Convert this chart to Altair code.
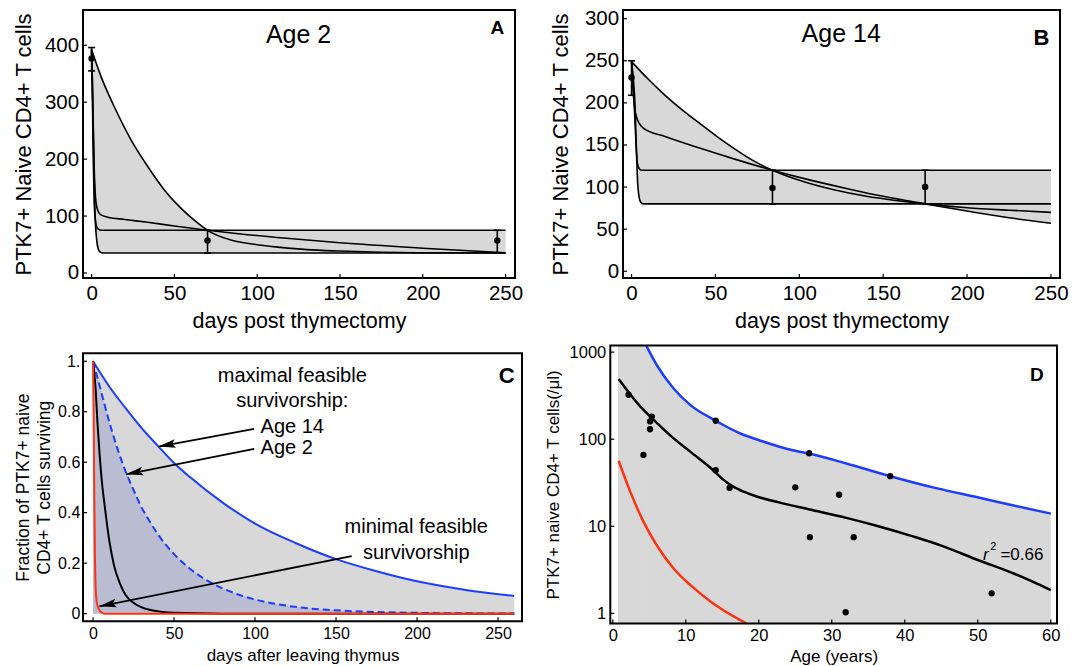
import math
import numpy as np
import pandas as pd
import altair as alt

FONT = "Liberation Sans"
GRAY = "#d8d8d8"
LAV = "#babcd2"
BLUE = "#1e3cff"
RED = "#ff3311"

# ---------------- Panel A : Age 2 ----------------
a_exp_day = [0, 5.7, 13.7, 23.8, 33.9, 43.9, 53.9, 64, 70, 84, 100, 114, 130, 150, 175, 200, 250]
a_exp_val = [392, 345, 292, 234, 187, 146, 114, 88, 75, 58, 49.6, 45, 41, 38.5, 36.5, 35.5, 35]
a_two_day = [0, 0.5, 1, 1.5, 2, 2.7, 4, 5.7, 9.8, 20, 33.9, 50, 70, 90, 114, 150, 200, 250]
a_two_val = [392, 330, 260, 190, 150, 123, 108, 102, 98, 94, 89, 82.5, 75, 68.5, 62, 53, 43.5, 35.5]
a_f75_day = [0, 0.5, 1, 1.5, 2, 3, 4, 6, 250]
a_f75_val = [392, 300, 200, 130, 100, 82, 77, 75, 75]
a_f35_day = [0, 0.5, 1, 1.5, 2, 3, 4, 5, 7, 250]
a_f35_val = [392, 330, 250, 170, 110, 60, 42, 37, 35, 35]
a_pt_day = [0, 70, 245]
a_pt_val = [377, 57, 57]
a_pt_lo = [355, 35, 35]
a_pt_hi = [396, 75, 75]
a_xticks = [0, 50, 100, 150, 200, 250]
a_yticks = [0, 100, 200, 300, 400]

# ---------------- Panel B : Age 14 ----------------
b_exp_day = [0, 10, 20, 30, 41, 51, 61, 72, 84, 100, 120, 140, 160, 175, 200, 225, 250]
b_exp_val = [249, 228, 209, 192, 175, 160, 146, 132, 120, 108, 97, 89, 83.5, 80, 75.5, 72.5, 70]
b_two_day = [0, 0.5, 1, 1.5, 2, 3, 4.5, 7, 20, 41, 61, 84, 100, 130, 150, 175, 200, 225, 250]
b_two_val = [249, 228, 212, 200, 192, 183, 176, 170, 160, 146, 133.5, 120, 111.5, 97.5, 89, 80, 71.5, 63.5, 57]
b_f120_day = [0, 1, 2, 2.7, 3.5, 4.5, 6, 250]
b_f120_val = [249, 220, 180, 150, 128, 122, 120, 120]
b_f80_day = [0, 1, 2, 2.8, 3.5, 4.5, 5.5, 7, 250]
b_f80_val = [249, 230, 200, 150, 110, 88, 82, 80, 80]
b_pt_day = [0, 84, 175]
b_pt_val = [230, 99, 100]
b_pt_lo = [209, 80, 80]
b_pt_hi = [250, 120, 120]
b_xticks = [0, 50, 100, 150, 200, 250]
b_yticks = [0, 50, 100, 150, 200, 250, 300]

# ---------------- Panel C : survivorship ----------------
c_blue_day = [0, 10, 20, 30, 40, 50, 60, 80, 100, 125, 150, 175, 200, 230, 260]
c_blue_val = [1.0, 0.90, 0.815, 0.735, 0.665, 0.597, 0.54, 0.44, 0.357, 0.28, 0.216, 0.168, 0.128, 0.094, 0.07]
c_dash_day = [0, 5, 10, 15, 20, 25, 30, 35, 40, 45, 50, 60, 70, 80, 90, 100, 115, 130, 150, 175, 200, 230, 260]
c_dash_val = [1.0, 0.88, 0.76, 0.655, 0.565, 0.49, 0.42, 0.365, 0.315, 0.272, 0.236, 0.177, 0.133, 0.1, 0.075,
              0.056, 0.036, 0.023, 0.013, 0.0065, 0.003, 0.0012, 0.0005]
c_black_day = [0, 1.6, 2.7, 4.1, 5.5, 7.2, 8.5, 10.2, 13, 16.4, 20, 24.7, 30, 37, 50, 80, 260]
c_black_val = [1.0, 0.89, 0.76, 0.626, 0.52, 0.427, 0.36, 0.282, 0.19, 0.123, 0.075, 0.044, 0.025, 0.012, 0.003, 0.0, 0.0]
c_red_day = [0, 0.4, 0.8, 1.2, 1.6, 2.2, 3.1, 4, 5.1, 7, 260]
c_red_val = [1.0, 0.75, 0.45, 0.22, 0.1, 0.05, 0.024, 0.012, 0.006, 0.0, 0.0]
c_text = ["maximal feasible", "survivorship:", "Age 14", "Age 2", "minimal feasible", "survivorship"]
c_text_x = [123, 123, 103.4, 103.4, 199.5, 199.5]
c_text_y = [0.943, 0.841, 0.738, 0.656, 0.342, 0.241]
c_text_align = ["center", "center", "left", "left", "center", "center"]
c_arrow_x0 = [99.5, 99.5, 159.7]
c_arrow_y0 = [0.732, 0.653, 0.228]
c_arrow_x1 = [40.4, 20.4, 3.9]
c_arrow_y1 = [0.662, 0.552, 0.029]
c_xticks = [0, 50, 100, 150, 200, 250]
c_yticks = [0, 0.2, 0.4, 0.6, 0.8, 1.0]

# ---------------- Panel D : age dependence ----------------
d_age = [2.16, 4.2, 5.1, 5.1, 5.35, 14.1, 14.1, 16.0, 25.0, 26.9, 27.0, 31.0, 33.0, 31.9, 38.0, 51.9]
d_val = [324, 66, 130, 160, 182, 163, 44, 27.6, 28, 69, 7.5, 23, 7.5, 1.03, 37.6, 1.7]
d_fit_age = [0.8, 3.75, 5.6, 8.3, 10.6, 13.75, 15.0, 16.5, 18.0, 19.7, 22.9, 27, 32, 36, 41, 45, 50, 55, 60]
d_fit_val = [490, 238, 167, 103, 72, 44, 35, 28.5, 24.8, 22, 18.7, 15.6, 12.5, 10.2, 7.7, 6.0, 4.1, 2.85, 1.85]
d_blue_age = [4.57, 6.0, 8.3, 10.6, 14.1, 17.4, 20.6, 24.2, 27.0, 32.0, 38.0, 44.3, 50.1, 54.9, 60.0]
d_blue_val = [1194, 716, 385, 248, 163, 117, 94, 76, 68, 52.6, 37.6, 27.4, 21.4, 17.3, 14.0]
d_red_age = [0.8, 2.39, 4.2, 6.0, 8.3, 10.6, 13.75, 17.2, 18.3]
d_red_val = [56.5, 25, 11.3, 6.1, 3.3, 2.12, 1.3, 0.86, 0.77]
d_xticks = [0, 10, 20, 30, 40, 50, 60]
d_yticks = [1, 10, 100, 1000]

# ---------------- geometry ----------------
A_W, A_H = 432, 268
B_W, B_H = 437, 268
C_W, C_H = 439, 268
D_W, D_H = 434, 278          # D's view starts at B's origin; its frame reaches D_SHIFT px further left
D_SHIFT = 12.7
A_XD, A_YD = [-5.2, 255.7], [-8.8, 462.0]
B_XD, B_YD = [-5.1, 255.4], [-8.0, 310.3]
C_XD, C_YD = [-6.2, 264.8], [-0.03, 1.032]
D_XD, D_YD = [-0.34, 60.85], [0.767, 1194.0]
NOFRAME = alt.ViewBackground(strokeWidth=0, fill="white")


def make_axis(values, title, lsize, tsize, lpad, tpad, extent=None, lexpr=None, tlh=None):
    kw = dict(values=values, title=title, grid=False, domain=False, ticks=False, tickSize=0,
              labelFont=FONT, labelFontSize=lsize, labelColor="black",
              labelPadding=lpad, labelOverlap=False, labelFlush=False,
              titleFont=FONT, titleFontSize=tsize, titleFontWeight="normal",
              titleColor="black", titlePadding=tpad)
    if extent is not None:
        kw["minExtent"] = extent
        kw["maxExtent"] = extent
    if lexpr is not None:
        kw["labelExpr"] = lexpr
    if tlh is not None:
        kw["titleLineHeight"] = tlh
    return alt.Axis(**kw)


class Panel:
    def __init__(self, xd, yd, xaxis, yaxis, W, H, ylog=False, x0=0.0):
        self.xd, self.yd, self.xaxis, self.yaxis, self.ylog = xd, yd, xaxis, yaxis, ylog
        self.W, self.H, self.x0 = W, H, x0   # x0: pixel position of the frame's left edge

    def x(self, f="x"):
        sc = alt.Scale(domain=self.xd, nice=False, zero=False, range=[self.x0, self.W])
        return alt.X(f"{f}:Q", scale=sc, axis=self.xaxis)

    def y(self, f="y"):
        if self.ylog:
            sc = alt.Scale(type="log", domain=self.yd, nice=False)
        else:
            sc = alt.Scale(domain=self.yd, nice=False, zero=False)
        return alt.Y(f"{f}:Q", scale=sc, axis=self.yaxis)

    def ticks(self, xt, yt):
        xs = alt.Chart(pd.DataFrame({"v": xt})).mark_rule(color="black", strokeWidth=1.2).encode(
            x=self.x("v"), y=alt.value(self.H), y2=alt.value(self.H - 4))
        ys = alt.Chart(pd.DataFrame({"v": yt})).mark_rule(color="black", strokeWidth=1.2).encode(
            y=self.y("v"), x=alt.value(self.x0), x2=alt.value(self.x0 + 4))
        return [xs, ys]

    def frame(self):
        return alt.Chart(pd.DataFrame({"a": [0]})).mark_rect(
            fillOpacity=0, stroke="black", strokeWidth=2).encode(
            x=alt.value(self.x0), x2=alt.value(self.W), y=alt.value(0), y2=alt.value(self.H))


def curves_df(pairs):
    rows = []
    for i, (xs, ys) in enumerate(pairs):
        for xv, yv in zip(xs, ys):
            rows.append({"x": xv, "y": yv, "id": i})
    return pd.DataFrame(rows)


def envelope(hi_d, hi_v, lo_d, lo_v):
    grid = np.unique(np.concatenate([np.asarray(hi_d, float), np.asarray(lo_d, float)]))
    return pd.DataFrame({"x": grid, "y": np.interp(grid, hi_d, hi_v), "y2": np.interp(grid, lo_d, lo_v)})


def anchor(ax, ay):
    # tiny white rule outside the frame: fixes where the panel's layout bounds start
    return alt.Chart(pd.DataFrame({"a": [0]})).mark_rule(color="white", strokeWidth=1).encode(
        x=alt.value(ax), x2=alt.value(ax + 1), y=alt.value(ay + 0.5))


def text_layer(p, xs, ys, texts, size, weight="normal", align="center", style="normal"):
    df = pd.DataFrame({"x": xs, "y": ys, "t": texts})
    return alt.Chart(df).mark_text(font=FONT, fontSize=size, fontWeight=weight, align=align,
                                   baseline="middle", fontStyle=style, color="black").encode(
        x=p.x(), y=p.y(), text="t:N")


def thymectomy_panel(p, curves, env_df, pd_, pv, plo, phi, xt, yt,
                     title, tx, ty, label, lx, ly, lsize, anc):
    area = alt.Chart(env_df).mark_area(color=GRAY, interpolate="monotone", clip=True).encode(
        x=p.x(), y=p.y(), y2=alt.Y2("y2:Q"))
    lines = alt.Chart(curves_df(curves)).mark_line(
        color="black", strokeWidth=1.6, interpolate="monotone", clip=True).encode(
        x=p.x(), y=p.y(), detail="id:N")
    pts = pd.DataFrame({"x": pd_, "y": pv, "lo": plo, "hi": phi})
    rule = alt.Chart(pts).mark_rule(color="black", strokeWidth=1.6).encode(
        x=p.x(), y=p.y("lo"), y2=alt.Y2("hi:Q"))
    cap_lo = alt.Chart(pts).mark_point(shape="stroke", size=49, color="black", strokeWidth=1.6, opacity=1).encode(
        x=p.x(), y=p.y("lo"))
    cap_hi = alt.Chart(pts).mark_point(shape="stroke", size=49, color="black", strokeWidth=1.6, opacity=1).encode(
        x=p.x(), y=p.y("hi"))
    dots = alt.Chart(pts).mark_circle(size=42, color="black", opacity=1).encode(x=p.x(), y=p.y())
    t1 = text_layer(p, [tx], [ty], [title], 25)
    t2 = text_layer(p, [lx], [ly], [label], lsize, weight="bold")
    return alt.layer(area, lines, rule, cap_lo, cap_hi, dots, t1, t2, *p.ticks(xt, yt), p.frame(),
                     anchor(*anc)).properties(width=p.W, height=p.H, view=NOFRAME)


# ---------------- Panel A ----------------
pA = Panel(A_XD, A_YD,
           make_axis(a_xticks, "days post thymectomy", 20.5, 21.5, 5, 7),
           make_axis(a_yticks, "PTK7+ Naive CD4+ T cells", 20.5, 22, 4.4, 7, extent=41),
           A_W, A_H)
a_hi_d = [d for d in a_exp_day if d <= 70] + [250]
a_hi_v = [v for d, v in zip(a_exp_day, a_exp_val) if d <= 70] + [a_f75_val[-1]]
envA = envelope(a_hi_d, a_hi_v, a_f35_day, a_f35_val)
A = thymectomy_panel(pA,
                     [(a_exp_day, a_exp_val), (a_two_day, a_two_val), (a_f75_day, a_f75_val), (a_f35_day, a_f35_val)],
                     envA, a_pt_day, a_pt_val, a_pt_lo, a_pt_hi, a_xticks, a_yticks,
                     "Age 2", 125, 418, "A", 245, 431, 19, (-81.7, -9.1))

# ---------------- Panel B ----------------
pB = Panel(B_XD, B_YD,
           make_axis(b_xticks, "days post thymectomy", 20.5, 21.5, 5, 7),
           make_axis(b_yticks, "PTK7+ Naive CD4+ T cells", 20.5, 22, 4.4, 9.2, extent=41),
           B_W, B_H)
b_hi_d = [d for d in b_exp_day if d <= 84] + [250]
b_hi_v = [v for d, v in zip(b_exp_day, b_exp_val) if d <= 84] + [b_f120_val[-1]]
b_lo_d = b_f80_day[:-1] + [d for d in b_two_day if d >= 175]
b_lo_v = b_f80_val[:-1] + [v for d, v in zip(b_two_day, b_two_val) if d >= 175]
envB = envelope(b_hi_d, b_hi_v, b_lo_d, b_lo_v)
B = thymectomy_panel(pB,
                     [(b_exp_day, b_exp_val), (b_two_day, b_two_val), (b_f120_day, b_f120_val), (b_f80_day, b_f80_val)],
                     envB, b_pt_day, b_pt_val, b_pt_lo, b_pt_hi, b_xticks, b_yticks,
                     "Age 14", 125, 281.5, "B", 244.4, 277.5, 22, (-82.7, -7.4))

# ---------------- Panel C ----------------
pC = Panel(C_XD, C_YD,
           make_axis(c_xticks, "days after leaving thymus", 16, 17, 4.5, 5.7),
           make_axis(c_yticks, ["Fraction of PTK7+ naive", "CD4+ T cells surviving"],
                     16, 17.5, 3.2, 1.7, extent=28, tlh=20.7,
                     lexpr="datum.value == 1 ? '1.' : (datum.value == 0 ? '0' : format(datum.value, '.1f'))"),
           C_W, C_H)
blue_df = pd.DataFrame({"x": c_blue_day, "y": c_blue_val, "b": [0.0] * len(c_blue_day)})
dash_df = pd.DataFrame({"x": c_dash_day, "y": c_dash_val, "b": [0.0] * len(c_dash_day)})
c_area1 = alt.Chart(blue_df).mark_area(color=GRAY, interpolate="monotone").encode(x=pC.x(), y=pC.y(), y2=alt.Y2("b:Q"))
c_area2 = alt.Chart(dash_df).mark_area(color=LAV, interpolate="monotone").encode(x=pC.x(), y=pC.y(), y2=alt.Y2("b:Q"))
c_l_blue = alt.Chart(blue_df).mark_line(color=BLUE, strokeWidth=2, interpolate="monotone").encode(x=pC.x(), y=pC.y())
c_l_dash = alt.Chart(dash_df).mark_line(color=BLUE, strokeWidth=2, strokeDash=[7, 4], interpolate="monotone").encode(x=pC.x(), y=pC.y())
c_l_black = alt.Chart(pd.DataFrame({"x": c_black_day, "y": c_black_val})).mark_line(
    color="black", strokeWidth=2, interpolate="monotone").encode(x=pC.x(), y=pC.y())
c_l_red = alt.Chart(pd.DataFrame({"x": c_red_day, "y": c_red_val})).mark_line(
    color=RED, strokeWidth=2, interpolate="monotone").encode(x=pC.x(), y=pC.y())

# arrows
pxx = C_W / (C_XD[1] - C_XD[0])
pxy = C_H / (C_YD[1] - C_YD[0])
arr_rows, head_rows = [], []
for i, (x0, y0, x1, y1) in enumerate(zip(c_arrow_x0, c_arrow_y0, c_arrow_x1, c_arrow_y1)):
    arr_rows += [{"x": x0, "y": y0, "id": i}, {"x": x1, "y": y1, "id": i}]
    dx = (x1 - x0) * pxx
    dy = -(y1 - y0) * pxy
    ang = math.degrees(math.atan2(dx, -dy)) % 360
    head_rows.append({"x": x1, "y": y1, "ang": ang})
c_arrows = alt.Chart(pd.DataFrame(arr_rows)).mark_line(color="black", strokeWidth=1.8).encode(
    x=pC.x(), y=pC.y(), detail="id:N")
HEAD = "M0,0L0.5,2L0,1.65L-0.5,2Z"
c_heads = alt.Chart(pd.DataFrame(head_rows)).mark_point(
    shape=HEAD, size=289, filled=True, color="black", opacity=1, strokeWidth=0).encode(
    x=pC.x(), y=pC.y(), angle=alt.Angle("ang:Q", scale=None))
c_texts = []
for al in ["center", "left"]:
    idx = [i for i, a in enumerate(c_text_align) if a == al]
    c_texts.append(text_layer(pC, [c_text_x[i] for i in idx], [c_text_y[i] for i in idx],
                              [c_text[i] for i in idx], 20, align=al))
c_lab = text_layer(pC, [255.4], [0.94], ["C"], 22, weight="bold")
C = alt.layer(c_area1, c_area2, c_l_blue, c_l_dash, c_l_black, c_l_red, c_arrows, c_heads,
              *c_texts, c_lab, *pC.ticks(c_xticks, c_yticks), pC.frame(),
              anchor(-81.7, 100)).properties(width=C_W, height=C_H, view=NOFRAME)

# ---------------- Panel D ----------------
pD = Panel(D_XD, D_YD,
           make_axis(d_xticks, "Age (years)", 16.5, 17, 3.9, 4.6),
           make_axis(d_yticks, "PTK7+ naive CD4+ T cells(/\u03bcl)", 16.5, 17, 4.5 + D_SHIFT, 6.5,
                     extent=41.5 + D_SHIFT, lexpr="format(datum.value, 'd')"),
           D_W, D_H, ylog=True, x0=-D_SHIFT)
d_rect = alt.Chart(pd.DataFrame({"x": [d_fit_age[0]], "x2": [d_blue_age[0]],
                                 "y": [D_YD[1]], "y2": [D_YD[0]]})).mark_rect(
    color=GRAY, stroke=GRAY, strokeWidth=1.2).encode(
    x=pD.x(), x2=alt.X2("x2:Q"), y=pD.y(), y2=alt.Y2("y2:Q"))
d_blue_df = pd.DataFrame({"x": d_blue_age, "y": d_blue_val, "b": [D_YD[0]] * len(d_blue_age)})
d_area = alt.Chart(d_blue_df).mark_area(color=GRAY, interpolate="monotone").encode(
    x=pD.x(), y=pD.y(), y2=alt.Y2("b:Q"))
d_l_blue = alt.Chart(d_blue_df).mark_line(color=BLUE, strokeWidth=2.5, interpolate="monotone").encode(
    x=pD.x(), y=pD.y())
d_l_red = alt.Chart(pd.DataFrame({"x": d_red_age, "y": d_red_val})).mark_line(
    color=RED, strokeWidth=2.5, interpolate="monotone").encode(x=pD.x(), y=pD.y())
d_l_fit = alt.Chart(pd.DataFrame({"x": d_fit_age, "y": d_fit_val})).mark_line(
    color="black", strokeWidth=2.5, interpolate="monotone").encode(x=pD.x(), y=pD.y())
d_pts = alt.Chart(pd.DataFrame({"x": d_age, "y": d_val})).mark_circle(size=40, color="black", opacity=1).encode(
    x=pD.x(), y=pD.y())
d_r = text_layer(pD, [50.7], [4.73], ["r"], 17, align="left", style="italic")
d_r2 = alt.Chart(pd.DataFrame({"x": [51.7], "y": [4.73], "t": ["2"]})).mark_text(
    font=FONT, fontSize=11, align="left", baseline="middle", dy=-8, color="black").encode(
    x=pD.x(), y=pD.y(), text="t:N")
d_r3 = text_layer(pD, [53.1], [4.73], ["=0.66"], 17, align="left")
d_lab = text_layer(pD, [58.1], [550], ["D"], 19, weight="bold")
D = alt.layer(d_rect, d_area, d_l_red, d_l_blue, d_l_fit, d_pts, d_r, d_r2, d_r3, d_lab,
              *pD.ticks(d_xticks, d_yticks), pD.frame(),
              anchor(-70, 100)).properties(width=D_W, height=D_H, view=NOFRAME)

left = alt.vconcat(A, C, spacing=20.2)
right = alt.vconcat(B, D, spacing=8.4)
chart = alt.hconcat(left, right, spacing=16).properties(
    padding={"left": 0, "top": 0, "right": 0, "bottom": 0}, background="white"
)

chart.save("out.html", embed_options={"renderer": "svg", "actions": False})
